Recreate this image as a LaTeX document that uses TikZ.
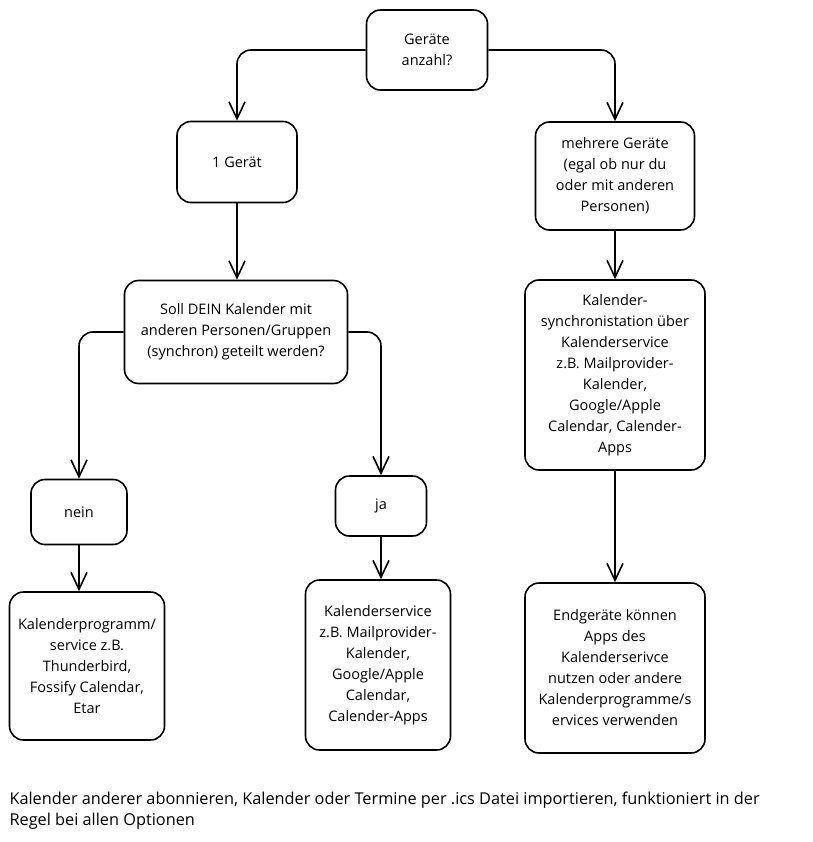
\documentclass[tikz,border=0pt]{standalone}
\usepackage{fontspec}
\setmainfont{Open Sans}
\usetikzlibrary{arrows.meta}

\tikzset{
  box/.style={draw, line width=1.6pt, rounded corners=14pt, align=center,
    font=\fontsize{14.5}{21}\selectfont, inner sep=4pt},
  arr/.style={line width=1.6pt, rounded corners=14pt,
    -{Straight Barb[length=17pt,width=16pt,line width=1.6pt]}},
}

\begin{document}
\begin{tikzpicture}[x=1pt,y=-1pt]
  \useasboundingbox (0,0) rectangle (812,842);
  % Kaestchen
  \node[box, minimum width=121pt, minimum height=80pt] (geraete) at (427,50) {Geräte\\anzahl?};
  \node[box, minimum width=120pt, minimum height=81pt] (eins) at (237,162) {1 Gerät};
  \node[box, minimum width=159pt, minimum height=108pt] (mehrere) at (615,176)
    {mehrere Geräte\\(egal ob nur du\\oder mit anderen\\Personen)};
  \node[box, minimum width=223pt, minimum height=103pt] (soll) at (236,332)
    {Soll DEIN Kalender mit\\anderen Personen/Gruppen\\(synchron) geteilt werden?};
  \node[box, minimum width=180pt, minimum height=190pt] (sync) at (615,375)
    {Kalender-\\synchronistation über\\Kalenderservice\\z.B. Mailprovider-\\Kalender,\\Google/Apple\\Calendar, Calender-\\Apps};
  \node[box, minimum width=96pt, minimum height=65pt] (nein) at (79,512) {nein};
  \node[box, minimum width=91pt, minimum height=60pt] (ja) at (381,506) {ja};
  \node[box, minimum width=155pt, minimum height=148pt] (programm) at (87,666)
    {Kalenderprogramm/\\service z.B.\\Thunderbird,\\Fossify Calendar,\\Etar};
  \node[box, minimum width=145pt, minimum height=170pt] (service) at (378,665)
    {Kalenderservice\\z.B. Mailprovider-\\Kalender,\\Google/Apple\\Calendar,\\Calender-Apps};
  \node[box, minimum width=180pt, minimum height=170pt] (endgeraete) at (615,668)
    {Endgeräte können\\Apps des\\Kalenderserivce\\nutzen oder andere\\Kalenderprogramme/s\\ervices verwenden};
  % Pfeile
  \draw[arr] (geraete.west) -| (eins.north);
  \draw[arr] (geraete.east) -| (mehrere.north);
  \draw[arr] (eins.south) -- (eins.south |- soll.north);
  \draw[arr] (mehrere.south) -- (sync.north);
  \draw[arr] (soll.west) -| (nein.north);
  \draw[arr] (soll.east) -| (ja.north);
  \draw[arr] (nein.south) -- (nein.south |- programm.north);
  \draw[arr] (ja.south) -- (ja.south |- service.north);
  \draw[arr] (sync.south) -- (endgeraete.north);
  % Hinweis unten
  \node[anchor=west, align=left, font=\fontsize{16.3}{21}\selectfont] (hinweis) at (6,811)
    {Kalender anderer abonnieren, Kalender oder Termine per .ics Datei importieren, funktioniert in der\\Regel bei allen Optionen};
\end{tikzpicture}
\end{document}
